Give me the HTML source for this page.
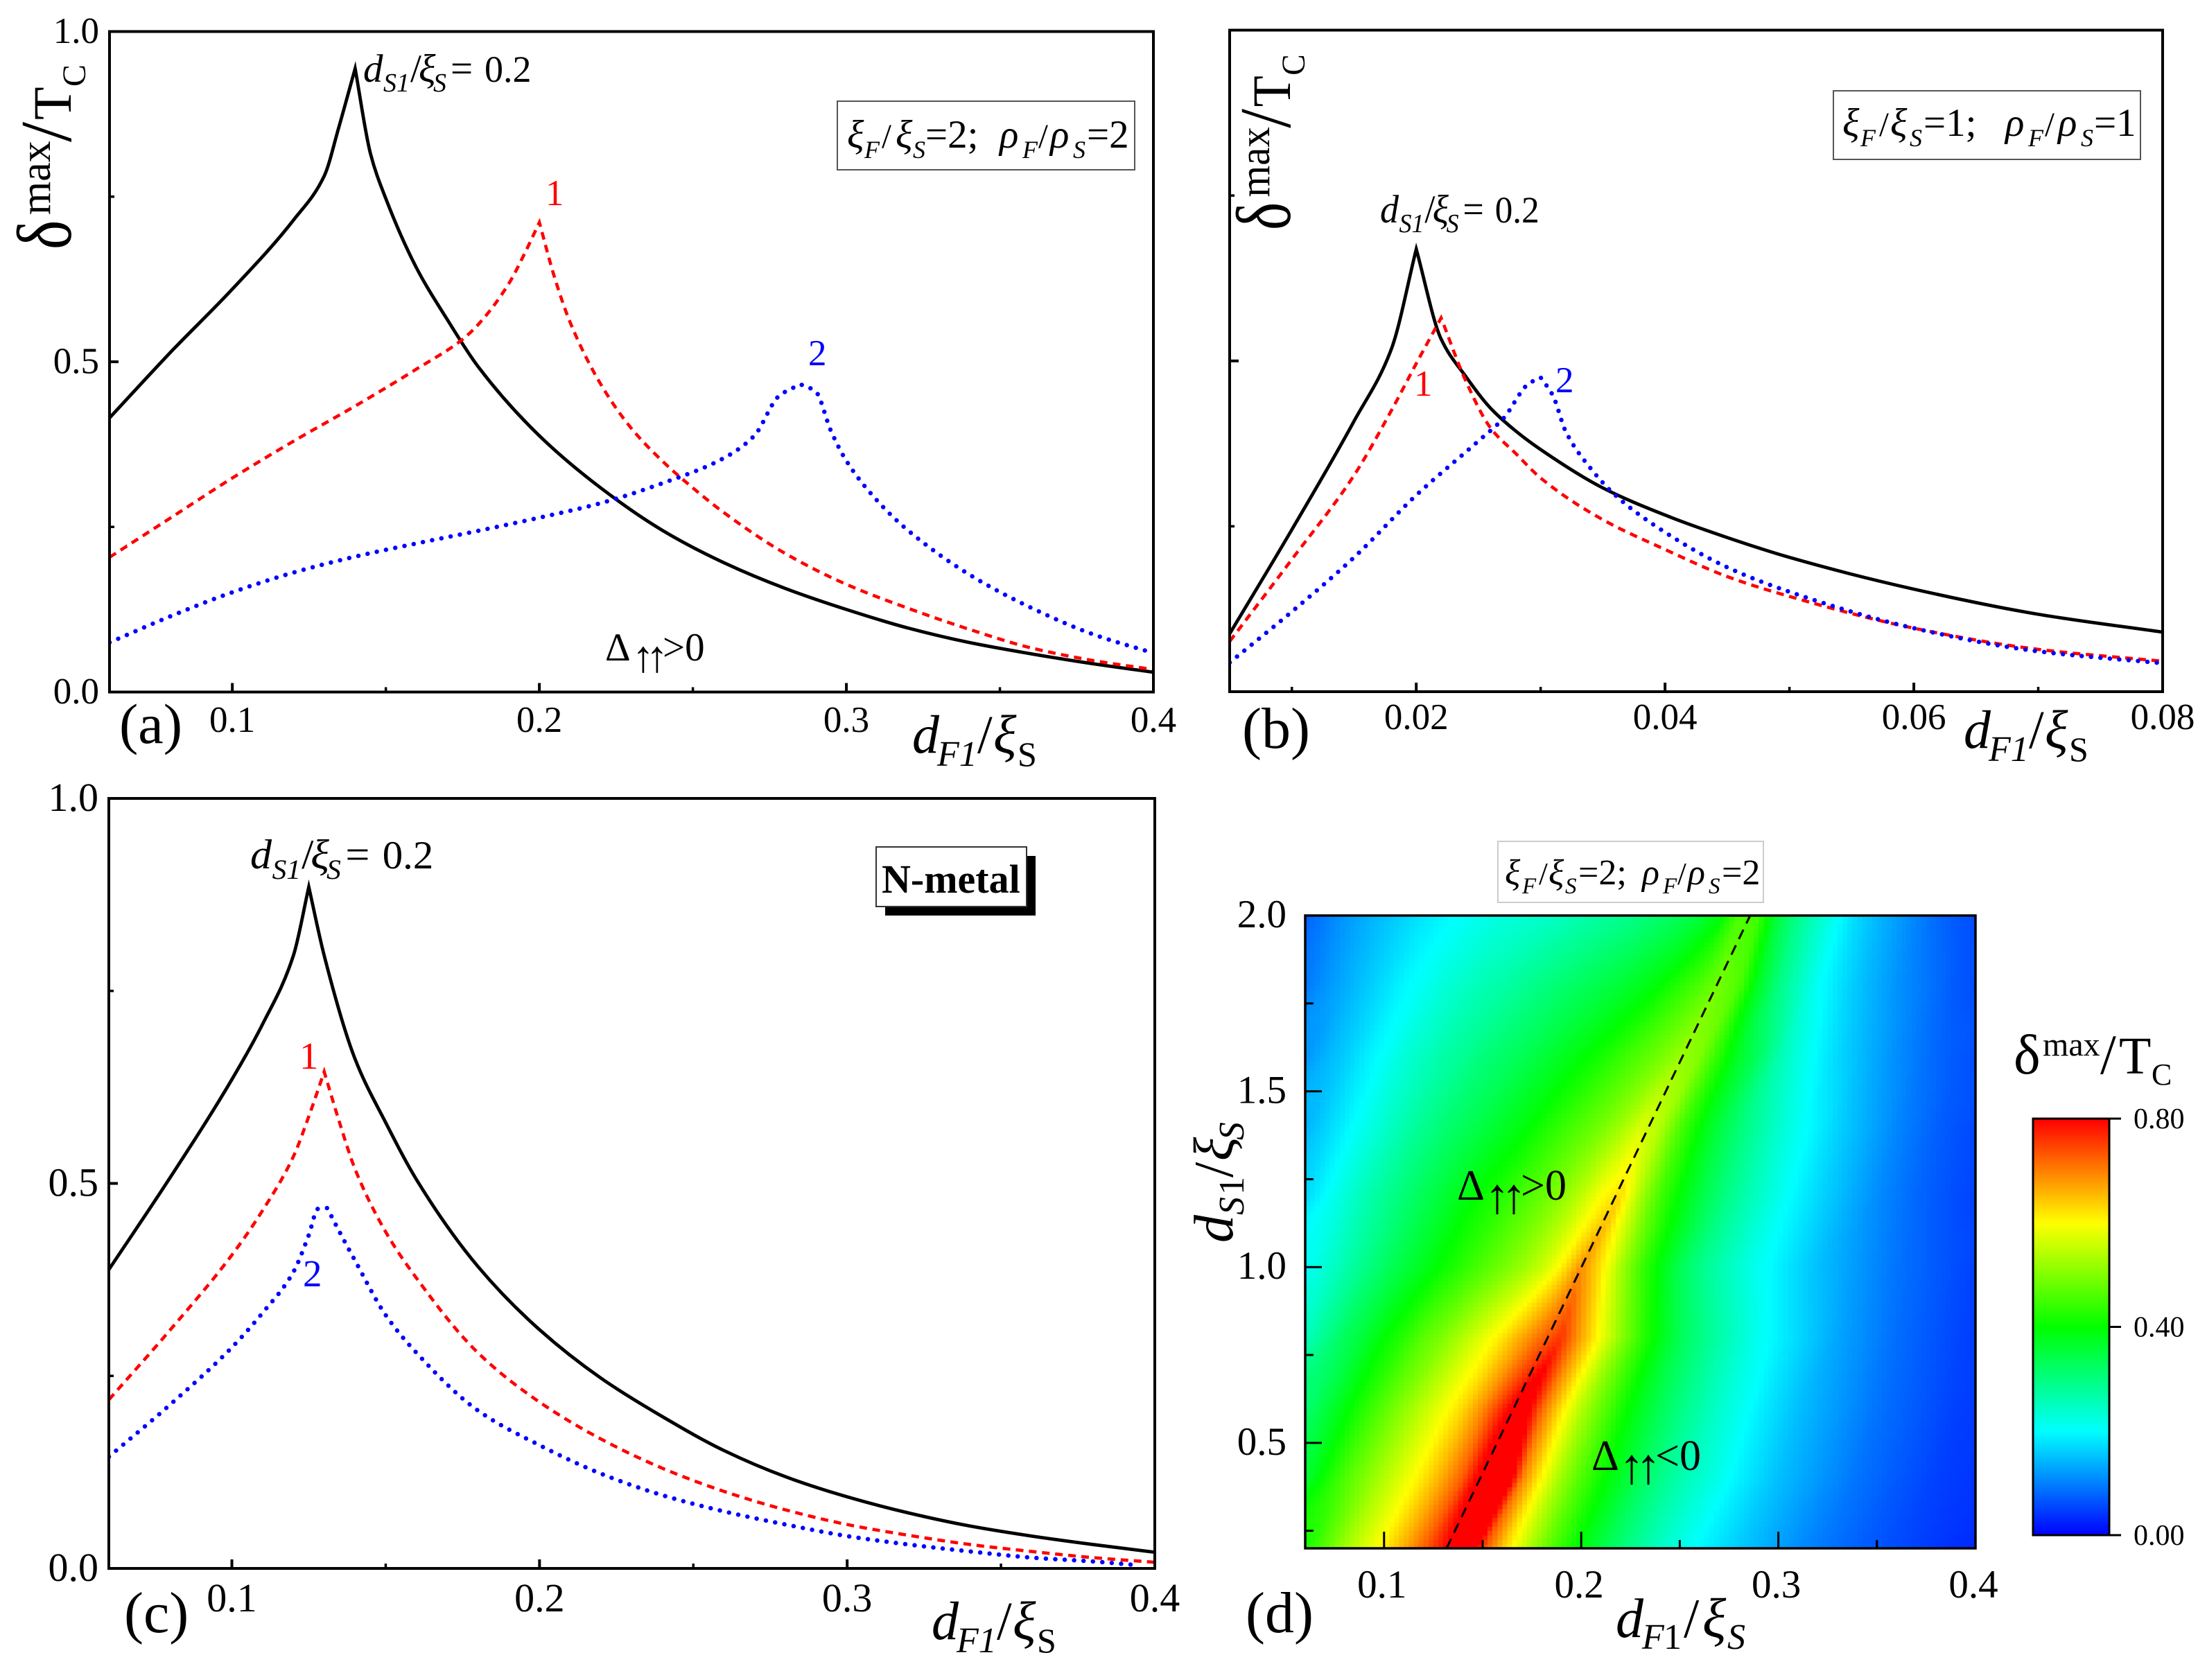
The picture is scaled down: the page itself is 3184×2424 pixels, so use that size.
<!DOCTYPE html>
<html lang="en">
<head>
<meta charset="utf-8">
<title>Four-panel superconducting spin-valve chart</title>
<style>
html,body{margin:0;padding:0;background:#fff;width:3184px;height:2424px;overflow:hidden}
svg{display:block}
text{font-family:"Liberation Serif","DejaVu Serif",serif;fill:#000}
.it{font-style:italic}
.up{font-style:normal}
</style>
</head>
<body>
<svg id="figure" xmlns="http://www.w3.org/2000/svg" width="3184" height="2424" viewBox="0 0 3184 2424">
  <rect x="0" y="0" width="3184" height="2424" fill="#fff"/>
  <g id="panel-a"></g>
  <g id="panel-b"></g>
  <g id="panel-c"></g>
  <g id="panel-d"></g>
  <g id="colorbar"></g>

  <!-- Panel a text -->
  <g transform="translate(102,360) rotate(-90)">
    <text transform="scale(.9,1.12)" font-size="100">δ</text>
    <text><tspan x="50" y="-30" font-size="62">max</tspan><tspan x="155" y="0" font-size="105">/</tspan><tspan x="187" y="0" font-size="78">T</tspan><tspan x="235" y="21" font-size="48">C</tspan></text>
  </g>
  <text x="172" y="1072" font-size="82">(a)</text>
  <g>
    <text class="it" y="1086" font-size="78"><tspan x="1316">d</tspan><tspan x="1352" y="1105" font-size="52">F1</tspan><tspan class="up" x="1410" y="1086">/</tspan><tspan x="1433">ξ</tspan><tspan class="up" x="1468" y="1105" font-size="50">S</tspan></text>
  </g>
  <g transform="translate(524,118)">
    <text font-size="57" class="it"><tspan x="0" y="0">d</tspan><tspan x="29" y="14" font-size="38">S1</tspan><tspan class="up" x="68" y="0">/</tspan><tspan x="80" y="0">ξ</tspan><tspan x="101" y="14" font-size="38">S</tspan><tspan class="up" x="126" y="0">=</tspan><tspan class="up" x="175" y="0" font-size="54">0.2</tspan></text>
  </g>
  <g>
    <rect x="1208" y="146" width="429" height="99" fill="#fff" stroke="#555" stroke-width="2"/>
    <g transform="translate(1222,213)"><text class="it" font-size="57"><tspan x="0" y="0">ξ</tspan><tspan x="25" y="15" font-size="36">F</tspan><tspan class="up" x="50" y="0" font-size="50">/</tspan><tspan x="70" y="0">ξ</tspan><tspan x="95" y="15" font-size="36">S</tspan><tspan class="up" x="113" y="0">=2;</tspan><tspan x="220" y="0">ρ</tspan><tspan x="253" y="15" font-size="36">F</tspan><tspan class="up" x="276" y="0" font-size="50">/</tspan><tspan x="293" y="0">ρ</tspan><tspan x="326" y="15" font-size="36">S</tspan><tspan class="up" x="346" y="0">=2</tspan></text></g>
  </g>
  <text x="787" y="296" font-size="53" style="fill:#f00">1</text>
  <text x="1166" y="527" font-size="53" style="fill:#00f">2</text>
  <text font-size="57"><tspan x="873" y="953">Δ</tspan><tspan x="912 932" y="969" font-size="64">↑↑</tspan><tspan x="956" y="953">&gt;0</tspan></text>

  <!-- Panel b text -->
  <g transform="translate(1861,332) rotate(-90) scale(.95,1)">
    <text transform="scale(.9,1.12)" font-size="100">δ</text>
    <text><tspan x="50" y="-30" font-size="62">max</tspan><tspan x="155" y="0" font-size="105">/</tspan><tspan x="187" y="0" font-size="78">T</tspan><tspan x="235" y="21" font-size="48">C</tspan></text>
  </g>
  <text x="1792" y="1079" font-size="84">(b)</text>
  <g transform="translate(1517,-7)">
    <text class="it" y="1086" font-size="78"><tspan x="1316">d</tspan><tspan x="1352" y="1105" font-size="52">F1</tspan><tspan class="up" x="1410" y="1086">/</tspan><tspan x="1433">ξ</tspan><tspan class="up" x="1468" y="1105" font-size="50">S</tspan></text>
  </g>
  <g transform="translate(1991,321) scale(.947,1)">
    <text font-size="57" class="it"><tspan x="0" y="0">d</tspan><tspan x="29" y="14" font-size="38">S1</tspan><tspan class="up" x="68" y="0">/</tspan><tspan x="80" y="0">ξ</tspan><tspan x="101" y="14" font-size="38">S</tspan><tspan class="up" x="126" y="0">=</tspan><tspan class="up" x="175" y="0" font-size="54">0.2</tspan></text>
  </g>
  <g>
    <rect x="2645" y="131" width="443" height="99" fill="#fff" stroke="#555" stroke-width="2"/>
    <g transform="translate(2658,196)"><text class="it" font-size="57"><tspan x="0" y="0">ξ</tspan><tspan x="26" y="15" font-size="36">F</tspan><tspan class="up" x="53" y="0" font-size="50">/</tspan><tspan x="69" y="0">ξ</tspan><tspan x="97" y="15" font-size="36">S</tspan><tspan class="up" x="117" y="0">=1;</tspan><tspan x="235" y="0">ρ</tspan><tspan x="268" y="15" font-size="36">F</tspan><tspan class="up" x="292" y="0" font-size="50">/</tspan><tspan x="311" y="0">ρ</tspan><tspan x="344" y="15" font-size="36">S</tspan><tspan class="up" x="363" y="0">=1</tspan></text></g>
  </g>
  <text x="2040" y="571" font-size="53" style="fill:#f00">1</text>
  <text x="2244" y="566" font-size="53" style="fill:#00f">2</text>

  <!-- Panel c text -->
  <text x="179" y="2355" font-size="84">(c)</text>
  <g transform="translate(28,1279)">
    <text class="it" y="1086" font-size="78"><tspan x="1316">d</tspan><tspan x="1352" y="1105" font-size="52">F1</tspan><tspan class="up" x="1410" y="1086">/</tspan><tspan x="1433">ξ</tspan><tspan class="up" x="1468" y="1105" font-size="50">S</tspan></text>
  </g>
  <g transform="translate(361,1253) scale(1.09,1.06)">
    <text font-size="57" class="it"><tspan x="0" y="0">d</tspan><tspan x="29" y="14" font-size="38">S1</tspan><tspan class="up" x="68" y="0">/</tspan><tspan x="80" y="0">ξ</tspan><tspan x="101" y="14" font-size="38">S</tspan><tspan class="up" x="126" y="0">=</tspan><tspan class="up" x="175" y="0" font-size="54">0.2</tspan></text>
  </g>
  <g>
    <rect x="1277" y="1235" width="217" height="86" fill="#000"/>
    <rect x="1264" y="1222" width="217" height="86" fill="#fff" stroke="#333" stroke-width="2"/>
    <text x="1272" y="1288" font-size="58" font-weight="bold">N-metal</text>
  </g>
  <text x="432" y="1542" font-size="55" style="fill:#f00">1</text>
  <text x="437" y="1856" font-size="55" style="fill:#00f">2</text>

  <!-- Panel d text -->
  <text x="1797" y="2355" font-size="84">(d)</text>
  <g>
    <text class="it" font-size="80"><tspan x="2331" y="2362">d</tspan><tspan x="2369" y="2379" font-size="52">F</tspan><tspan class="up" x="2400" y="2379" font-size="52">1</tspan><tspan class="up" x="2429" y="2362">/</tspan><tspan x="2456" y="2362">ξ</tspan><tspan x="2492" y="2379" font-size="52">S</tspan></text>
  </g>
  <text class="it" transform="translate(1778,1793) rotate(-90)" font-size="80"><tspan x="0" y="0">d</tspan><tspan x="40" y="16" font-size="52">S</tspan><tspan class="up" x="69" y="16" font-size="52">1</tspan><tspan class="up" x="94" y="0">/</tspan><tspan x="118" y="0">ξ</tspan><tspan x="148" y="16" font-size="52">S</tspan></text>
  <g>
    <rect x="2161" y="1214" width="383" height="88" fill="#fff" stroke="#ccc" stroke-width="2"/>
    <g transform="translate(2171,1276)"><text class="it" font-size="52"><tspan x="0" y="0">ξ</tspan><tspan x="25" y="13" font-size="33">F</tspan><tspan class="up" x="49" y="0" font-size="46">/</tspan><tspan x="63" y="0">ξ</tspan><tspan x="87" y="13" font-size="33">S</tspan><tspan class="up" x="106" y="0">=2;</tspan><tspan x="198" y="0">ρ</tspan><tspan x="228" y="13" font-size="33">F</tspan><tspan class="up" x="249" y="0" font-size="46">/</tspan><tspan x="264" y="0">ρ</tspan><tspan x="294" y="13" font-size="33">S</tspan><tspan class="up" x="313" y="0">=2</tspan></text></g>
  </g>
  <text id="delta-pos" font-size="62"><tspan x="2102" y="1731">Δ</tspan><tspan x="2142 2166" y="1750" font-size="72">↑↑</tspan><tspan x="2194" y="1731">&gt;0</tspan></text>
  <text id="delta-neg" font-size="62"><tspan x="2296" y="2121">Δ</tspan><tspan x="2336 2360" y="2140" font-size="72">↑↑</tspan><tspan x="2388" y="2121">&lt;0</tspan></text>

  <!-- Colour bar title -->
  <text><tspan x="2905" y="1549" font-size="82">δ</tspan><tspan x="2947" y="1523" font-size="48">max</tspan><tspan x="3030" y="1549" font-size="82">/</tspan><tspan x="3057" y="1549" font-size="76">T</tspan><tspan x="3104" y="1565" font-size="44">C</tspan></text>
</svg>

<script>
// ---------- Panel (a) data ----------
const aBlackX = [0.06,0.08,0.10,0.12,0.13,0.1345,0.14,0.145,0.15,0.16,0.17,0.18,0.20,0.22,0.24,0.26,0.28,0.30,0.32,0.34,0.36,0.38,0.40];
const aBlackY = [0.415,0.515,0.610,0.715,0.782,0.852,0.944,0.815,0.747,0.642,0.564,0.493,0.388,0.309,0.245,0.196,0.157,0.125,0.097,0.075,0.058,0.043,0.030];
const aRedX = [0.06,0.08,0.10,0.12,0.14,0.16,0.175,0.18,0.19,0.195,0.20,0.205,0.21,0.22,0.23,0.24,0.25,0.26,0.28,0.30,0.32,0.34,0.36,0.38,0.40];
const aRedY = [0.204,0.264,0.324,0.380,0.433,0.489,0.534,0.556,0.618,0.662,0.711,0.627,0.560,0.466,0.399,0.350,0.309,0.272,0.210,0.163,0.127,0.095,0.067,0.048,0.034];
const aBlueX = [0.06,0.08,0.10,0.12,0.14,0.16,0.18,0.20,0.22,0.24,0.26,0.27,0.278,0.285,0.29,0.295,0.30,0.31,0.32,0.34,0.36,0.38,0.40];
const aBlueY = [0.075,0.115,0.151,0.181,0.205,0.225,0.244,0.264,0.286,0.316,0.354,0.388,0.448,0.466,0.455,0.395,0.350,0.290,0.245,0.178,0.128,0.088,0.059];

// ---------- Panel (b) data ----------
const bBlackX = [0.005,0.01,0.015,0.018,0.02,0.022,0.024,0.026,0.028,0.03,0.035,0.04,0.045,0.05,0.06,0.07,0.08];
const bBlackY = [0.0875,0.245,0.409,0.518,0.669,0.533,0.476,0.428,0.394,0.366,0.308,0.267,0.233,0.203,0.155,0.117,0.090];
const bRedX = [0.005,0.01,0.015,0.018,0.02,0.022,0.024,0.026,0.028,0.03,0.035,0.04,0.045,0.05,0.06,0.07,0.08];
const bRedY = [0.076,0.200,0.327,0.425,0.496,0.565,0.469,0.398,0.360,0.323,0.260,0.215,0.174,0.144,0.096,0.064,0.046];
const bBlueX = [0.005,0.01,0.015,0.02,0.025,0.027,0.029,0.03,0.031,0.032,0.034,0.036,0.04,0.045,0.05,0.06,0.07,0.08];
const bBlueY = [0.044,0.121,0.203,0.297,0.379,0.413,0.465,0.475,0.447,0.394,0.338,0.297,0.241,0.188,0.151,0.096,0.061,0.043];

// ---------- Panel (c) data ----------
const cBlackX = [0.06,0.08,0.10,0.11,0.12,0.125,0.13,0.14,0.15,0.16,0.18,0.20,0.22,0.24,0.26,0.28,0.30,0.32,0.34,0.36,0.38,0.40];
const cBlackY = [0.388,0.508,0.635,0.707,0.796,0.885,0.796,0.662,0.579,0.505,0.392,0.310,0.247,0.197,0.153,0.119,0.093,0.072,0.055,0.042,0.031,0.021];
const cRedX = [0.06,0.08,0.10,0.11,0.12,0.125,0.13,0.135,0.14,0.15,0.16,0.18,0.20,0.22,0.24,0.26,0.28,0.30,0.32,0.34,0.36,0.38,0.40];
const cRedY = [0.219,0.310,0.407,0.465,0.535,0.587,0.645,0.579,0.519,0.437,0.377,0.280,0.216,0.168,0.130,0.100,0.076,0.057,0.043,0.031,0.022,0.014,0.008];
const cBlueX = [0.06,0.08,0.10,0.11,0.12,0.125,0.128,0.131,0.135,0.14,0.15,0.16,0.18,0.20,0.22,0.24,0.26,0.28,0.30,0.32,0.34,0.36,0.38,0.395];
const cBlueY = [0.145,0.213,0.287,0.332,0.385,0.433,0.467,0.468,0.437,0.400,0.329,0.280,0.205,0.160,0.123,0.095,0.074,0.057,0.042,0.031,0.022,0.014,0.009,0.004];

// ---------- Shared tick values ----------
const unitMajorTicks = [0,0.5,1];
const unitTickLabels = ["0.0","0.5","1.0"];
const unitMinorTicks = [0.25,0.75];
const dfMajorTicks = [0.1,0.2,0.3,0.4];
const dfTickLabels = ["0.1","0.2","0.3","0.4"];
const dfMinorTicks = [0.15,0.25,0.35];
const bMajorTicks = [0.02,0.04,0.06,0.08];
const bTickLabels = ["0.02","0.04","0.06","0.08"];
const bMinorTicks = [0.01,0.03,0.05,0.07];
const dsMajorTicks = [0.5,1,1.5,2];
const dsTickLabels = ["0.5","1.0","1.5","2.0"];
const dsMinorTicks = [0.25,0.75,1.25,1.75];

// ---------- Panel (d) heatmap data ----------
const hmColumns = [0.06,0.07,0.08,0.09,0.10,0.11,0.12,0.13,0.14,0.15,0.16,0.17,0.18,0.19,0.20,0.21,0.22,0.23,0.24,0.25,0.26,0.27,0.28,0.29,0.30,0.31,0.32,0.33,0.34,0.35,0.36,0.37,0.38,0.39,0.40];
const hmRowLevels = [0.2,0.4,0.6,0.8,1.0,1.2,1.4,1.6,1.8,2.0];
const hmRow02 = [0.415,0.47,0.526,0.57,0.616,0.665,0.725,0.789,0.944,0.747,0.642,0.564,0.493,0.437,0.388,0.347,0.309,0.276,0.245,0.22,0.196,0.177,0.159,0.142,0.125,0.11,0.097,0.086,0.075,0.066,0.058,0.05,0.043,0.036,0.03];
const hmRow04 = [0.36,0.41,0.46,0.50,0.54,0.58,0.62,0.67,0.73,0.84,0.92,0.70,0.60,0.52,0.46,0.41,0.37,0.33,0.295,0.265,0.24,0.215,0.19,0.17,0.15,0.135,0.12,0.105,0.09,0.08,0.07,0.06,0.05,0.045,0.04];
const hmRow06 = [0.31,0.35,0.39,0.43,0.47,0.51,0.55,0.59,0.63,0.69,0.77,0.86,0.72,0.62,0.54,0.48,0.42,0.375,0.335,0.30,0.27,0.24,0.215,0.19,0.17,0.15,0.135,0.12,0.105,0.09,0.08,0.07,0.06,0.05,0.045];
const hmRow08 = [0.25,0.29,0.33,0.36,0.40,0.43,0.47,0.50,0.54,0.58,0.62,0.67,0.72,0.76,0.67,0.59,0.51,0.44,0.385,0.335,0.30,0.27,0.24,0.21,0.19,0.17,0.15,0.13,0.115,0.10,0.085,0.075,0.065,0.055,0.045];
const hmRow10 = [0.204,0.234,0.264,0.294,0.324,0.352,0.38,0.407,0.433,0.461,0.489,0.52,0.556,0.61,0.69,0.62,0.53,0.45,0.39,0.335,0.295,0.265,0.235,0.21,0.19,0.17,0.15,0.135,0.12,0.105,0.09,0.08,0.07,0.06,0.05];
const hmRow12 = [0.17,0.20,0.23,0.26,0.285,0.31,0.335,0.36,0.385,0.41,0.43,0.455,0.48,0.51,0.55,0.60,0.63,0.53,0.45,0.395,0.35,0.31,0.275,0.245,0.215,0.19,0.17,0.15,0.13,0.11,0.095,0.08,0.07,0.06,0.05];
const hmRow14 = [0.14,0.165,0.19,0.215,0.24,0.265,0.29,0.31,0.33,0.35,0.37,0.39,0.415,0.44,0.465,0.49,0.525,0.57,0.54,0.46,0.40,0.35,0.31,0.275,0.24,0.21,0.19,0.165,0.145,0.125,0.105,0.09,0.075,0.065,0.055];
const hmRow16 = [0.115,0.14,0.16,0.185,0.205,0.23,0.25,0.27,0.285,0.305,0.32,0.335,0.355,0.375,0.395,0.415,0.44,0.465,0.49,0.52,0.50,0.43,0.37,0.325,0.265,0.225,0.195,0.17,0.15,0.13,0.11,0.095,0.08,0.07,0.06];
const hmRow18 = [0.095,0.115,0.135,0.155,0.175,0.195,0.21,0.23,0.245,0.26,0.27,0.285,0.30,0.315,0.33,0.345,0.36,0.38,0.40,0.43,0.46,0.49,0.46,0.37,0.30,0.25,0.205,0.18,0.155,0.135,0.115,0.10,0.085,0.07,0.06];
const hmRow20 = [0.075,0.097,0.118,0.135,0.151,0.166,0.181,0.193,0.204,0.215,0.226,0.234,0.241,0.252,0.264,0.275,0.286,0.30,0.316,0.333,0.354,0.388,0.46,0.45,0.35,0.29,0.245,0.205,0.17,0.145,0.125,0.103,0.084,0.07,0.059];
const hmRows = [hmRow02,hmRow04,hmRow06,hmRow08,hmRow10,hmRow12,hmRow14,hmRow16,hmRow18,hmRow20];
const ridgeLineX = [0.1317,0.2857];
const ridgeLineY = [0.2,2.0];

// ---------- Colour scale ----------
const colorLevels = [0,0.1,0.2,0.3,0.4,0.5,0.6,0.7,0.8];
const colorReds = [0,0,0,0,0,128,255,255,255];
const colorGreens = [0,128,255,255,255,255,255,128,0];
const colorBlues = [255,255,255,128,0,0,0,0,0];
const colorbarTicks = [0,0.4,0.8];
const colorbarTickLabels = ["0.00","0.40","0.80"];

// ---------- Helpers ----------
const NS = "http://www.w3.org/2000/svg";
function scale(d0, d1, r0, r1) {
  return function (v) { return r0 + (v - d0) / (d1 - d0) * (r1 - r0); };
}
function make(parent, tag, attrs) {
  const el = document.createElementNS(NS, tag);
  for (const k in attrs) el.setAttribute(k, attrs[k]);
  parent.appendChild(el);
  return el;
}
function tick(parent, name, attrs) {
  const el = make(parent, "line", attrs);
  
  
  el.setAttribute("stroke", "#000");
  return el;
}
function label(parent, name, str, attrs) {
  const el = make(parent, "text", attrs);
  
  
  el.textContent = str;
  return el;
}
// Monotone cubic path through the data, keeping a sharp cusp at the curve's peak.
function curvePath(xs, ys, sx, sy) {
  const X = xs.map(sx), Y = ys.map(sy);
  const n = X.length;
  let peak = 0;
  for (let i = 1; i < n; i++) if (ys[i] > ys[peak]) peak = i;
  const slopes = [];
  for (let i = 0; i < n - 1; i++) slopes.push((Y[i + 1] - Y[i]) / (X[i + 1] - X[i]));
  const outT = [], inT = [];
  for (let i = 0; i < n; i++) {
    let m;
    if (i === 0) m = slopes[0];
    else if (i === n - 1) m = slopes[n - 2];
    else if (slopes[i - 1] * slopes[i] <= 0) m = 0;
    else {
      const h0 = X[i] - X[i - 1], h1 = X[i + 1] - X[i];
      const w1 = 2 * h1 + h0, w2 = h1 + 2 * h0;
      m = (w1 + w2) / (w1 / slopes[i - 1] + w2 / slopes[i]);
    }
    outT.push(m);
    inT.push(m);
  }
  if (peak > 0 && peak < n - 1) {
    inT[peak] = slopes[peak - 1];
    outT[peak] = slopes[peak];
  }
  let d = "M" + X[0].toFixed(2) + " " + Y[0].toFixed(2);
  for (let i = 0; i < n - 1; i++) {
    const h = (X[i + 1] - X[i]) / 3;
    d += "C" + (X[i] + h).toFixed(2) + " " + (Y[i] + outT[i] * h).toFixed(2) + " " +
      (X[i + 1] - h).toFixed(2) + " " + (Y[i + 1] - inT[i + 1] * h).toFixed(2) + " " +
      X[i + 1].toFixed(2) + " " + Y[i + 1].toFixed(2);
  }
  return d;
}
function curve(parent, name, xs, ys, sx, sy, style) {
  const el = make(parent, "path", Object.assign({ d: curvePath(xs, ys, sx, sy), fill: "none" }, style));
  
  
  return el;
}
function frame(parent, name, x, y, w, h, sw) {
  const el = make(parent, "rect", { x: x, y: y, width: w, height: h, fill: "none", stroke: "#000", "stroke-width": sw });
  
  
}
const solidStyle = { stroke: "#000", "stroke-width": 4.8, "stroke-linejoin": "miter", "stroke-miterlimit": 10 };
const dashStyle = { stroke: "#f00", "stroke-width": 4.6, "stroke-dasharray": "11 8" };
const dotStyle = { stroke: "#00f", "stroke-width": 6.4, "stroke-linecap": "round", "stroke-dasharray": "0.1 13.5", "stroke-linejoin": "round" };

function linePanel(id, r, xDomain, xMajor, xLabels, xMinor, opt, series) {
  const g = document.getElementById(id);
  const sx = scale(xDomain[0], xDomain[1], r.x0, r.x1);
  const sy = scale(0, 1, r.y1, r.y0);
  const defs = make(g, "clipPath", { id: id + "-clip" });
  make(defs, "rect", { x: r.x0, y: r.y0, width: r.x1 - r.x0, height: r.y1 - r.y0 });
  const lines = make(g, "g", { "clip-path": "url(#" + id + "-clip)" });
  curve(lines, id + "-curve-black", series[0], series[1], sx, sy, solidStyle);
  curve(lines, id + "-curve-red", series[2], series[3], sx, sy, dashStyle);
  curve(lines, id + "-curve-blue", series[4], series[5], sx, sy, dotStyle);
  xMajor.forEach(function (v, i) {
    tick(g, id + "-x-tick", { x1: sx(v), x2: sx(v), y1: r.y1, y2: r.y1 - 13, "stroke-width": 4 });
    label(g, id + "-x-tick-label", xLabels[i], { x: sx(v), y: opt.xLabelY, "font-size": opt.fs, "text-anchor": "middle" });
  });
  xMinor.forEach(function (v) {
    tick(g, id + "-x-minor-tick", { x1: sx(v), x2: sx(v), y1: r.y1, y2: r.y1 - 7, "stroke-width": 3.5 });
  });
  unitMajorTicks.forEach(function (v, i) {
    tick(g, id + "-y-tick", { x1: r.x0, x2: r.x0 + 13, y1: sy(v), y2: sy(v), "stroke-width": 4 });
    if (opt.yLabels) {
      label(g, id + "-y-tick-label", unitTickLabels[i], { x: r.x0 - 15, y: sy(v) + opt.fs * 0.31, "font-size": opt.fs, "text-anchor": "end" });
    }
  });
  unitMinorTicks.forEach(function (v) {
    tick(g, id + "-y-minor-tick", { x1: r.x0, x2: r.x0 + 7, y1: sy(v), y2: sy(v), "stroke-width": 3.5 });
  });
  frame(g, id + "-frame", r.x0, r.y0, r.x1 - r.x0, r.y1 - r.y0, 4);
}

linePanel("panel-a", { x0: 158, x1: 1664, y0: 45.5, y1: 998.5 }, [0.06, 0.4], dfMajorTicks, dfTickLabels, dfMinorTicks,
  { xLabelY: 1056, fs: 53, yLabels: true }, [aBlackX, aBlackY, aRedX, aRedY, aBlueX, aBlueY]);
linePanel("panel-b", { x0: 1774, x1: 3120, y0: 43.5, y1: 998 }, [0.005, 0.08], bMajorTicks, bTickLabels, bMinorTicks,
  { xLabelY: 1052, fs: 53, yLabels: false }, [bBlackX, bBlackY, bRedX, bRedY, bBlueX, bBlueY]);
linePanel("panel-c", { x0: 157, x1: 1666, y0: 1152, y1: 2263 }, [0.06, 0.4], dfMajorTicks, dfTickLabels, dfMinorTicks,
  { xLabelY: 2325, fs: 58, yLabels: true }, [cBlackX, cBlackY, cRedX, cRedY, cBlueX, cBlueY]);

// ---------- Colour map ----------
function colorOf(v) {
  const c = Math.max(colorLevels[0], Math.min(colorLevels[colorLevels.length - 1], v));
  let i = 0;
  while (i < colorLevels.length - 2 && c > colorLevels[i + 1]) i++;
  const t = (c - colorLevels[i]) / (colorLevels[i + 1] - colorLevels[i]);
  const r = Math.round(colorReds[i] + t * (colorReds[i + 1] - colorReds[i]));
  const gg = Math.round(colorGreens[i] + t * (colorGreens[i + 1] - colorGreens[i]));
  const b = Math.round(colorBlues[i] + t * (colorBlues[i + 1] - colorBlues[i]));
  return "rgb(" + r + "," + gg + "," + b + ")";
}

// ---------- Panel (d) ----------
function sampleRow(row, x) {
  const n = hmColumns.length;
  if (x <= hmColumns[0]) return row[0];
  if (x >= hmColumns[n - 1]) return row[n - 1];
  let i = 0;
  while (i < n - 2 && x > hmColumns[i + 1]) i++;
  const t = (x - hmColumns[i]) / (hmColumns[i + 1] - hmColumns[i]);
  return row[i] * (1 - t) + row[i + 1] * t;
}
function rowPeak(row) {
  let best = 0;
  for (let i = 1; i < row.length; i++) if (row[i] > row[best]) best = i;
  return hmColumns[best];
}
(function () {
  const g = document.getElementById("panel-d");
  const r = { x0: 1883, x1: 2850, y0: 1321, y1: 2234 };
  const sx = scale(hmColumns[0], hmColumns[hmColumns.length - 1], r.x0, r.x1);
  const sy = scale(hmRowLevels[0], hmRowLevels[hmRowLevels.length - 1], r.y1, r.y0);
  const cells = make(g, "g", { "shape-rendering": "crispEdges" });
  const peaks = hmRows.map(rowPeak);
  const subX = 4, subY = 16;
  for (let j = 0; j < hmRows.length - 1; j++) {
    const shift = peaks[j + 1] - peaks[j];
    for (let sj = 0; sj < subY; sj++) {
      const w = (sj + 0.5) / subY;
      const ya = hmRowLevels[j] + (hmRowLevels[j + 1] - hmRowLevels[j]) * sj / subY;
      const yb = hmRowLevels[j] + (hmRowLevels[j + 1] - hmRowLevels[j]) * (sj + 1) / subY;
      for (let i = 0; i < hmColumns.length - 1; i++) {
        for (let si = 0; si < subX; si++) {
          const xa = hmColumns[i] + (hmColumns[i + 1] - hmColumns[i]) * si / subX;
          const xb = hmColumns[i] + (hmColumns[i + 1] - hmColumns[i]) * (si + 1) / subX;
          const xc = (xa + xb) / 2;
          const value = sampleRow(hmRows[j], xc - w * shift) * (1 - w) + sampleRow(hmRows[j + 1], xc + (1 - w) * shift) * w;
          const cell = make(cells, "rect", {
            x: sx(xa).toFixed(2), y: sy(yb).toFixed(2),
            width: (sx(xb) - sx(xa) + 0.6).toFixed(2), height: (sy(ya) - sy(yb) + 0.6).toFixed(2),
            fill: colorOf(value)
          });
          
          
        }
      }
    }
  }
  curve(g, "ridge-dashed-line", ridgeLineX, ridgeLineY, sx, sy, { stroke: "#000", "stroke-width": 3, "stroke-dasharray": "15 10" });
  dfMajorTicks.forEach(function (v, i) {
    if (v < 0.4) tick(g, "panel-d-x-tick", { x1: sx(v), x2: sx(v), y1: r.y1, y2: r.y1 - 24, "stroke-width": 3 });
    label(g, "panel-d-x-tick-label", dfTickLabels[i], { x: sx(v) - 3, y: 2305, "font-size": 57, "text-anchor": "middle" });
  });
  dfMinorTicks.forEach(function (v) {
    tick(g, "panel-d-x-minor-tick", { x1: sx(v), x2: sx(v), y1: r.y1, y2: r.y1 - 12, "stroke-width": 3 });
  });
  dsMajorTicks.forEach(function (v, i) {
    if (v < 2) tick(g, "panel-d-y-tick", { x1: r.x0, x2: r.x0 + 24, y1: sy(v), y2: sy(v), "stroke-width": 3 });
    label(g, "panel-d-y-tick-label", dsTickLabels[i], { x: r.x0 - 27, y: sy(v) + 17, "font-size": 57, "text-anchor": "end" });
  });
  dsMinorTicks.forEach(function (v) {
    tick(g, "panel-d-y-minor-tick", { x1: r.x0, x2: r.x0 + 12, y1: sy(v), y2: sy(v), "stroke-width": 3 });
  });
  frame(g, "panel-d-frame", r.x0, r.y0, r.x1 - r.x0, r.y1 - r.y0, 3.5);
})();

// ---------- Colour bar ----------
(function () {
  const g = document.getElementById("colorbar");
  const r = { x0: 2933, x1: 3043, y0: 1614, y1: 2215 };
  const domainMax = colorLevels[colorLevels.length - 1];
  const sy = scale(0, domainMax, r.y1, r.y0);
  const steps = 200;
  for (let k = 0; k < steps; k++) {
    const a = domainMax * k / steps, b = domainMax * (k + 1) / steps;
    const band = make(g, "rect", { x: r.x0, y: sy(b).toFixed(2), width: r.x1 - r.x0, height: (sy(a) - sy(b) + 0.6).toFixed(2), fill: colorOf((a + b) / 2) });
    
    
  }
  colorbarTicks.forEach(function (v, i) {
    tick(g, "colorbar-tick", { x1: r.x1, x2: r.x1 + 17, y1: sy(v), y2: sy(v), "stroke-width": 3 });
    label(g, "colorbar-tick-label", colorbarTickLabels[i], { x: 3078, y: sy(v) + 14, "font-size": 42 });
  });
  frame(g, "colorbar-frame", r.x0, r.y0, r.x1 - r.x0, r.y1 - r.y0, 3);
})();
</script>
</body>
</html>
